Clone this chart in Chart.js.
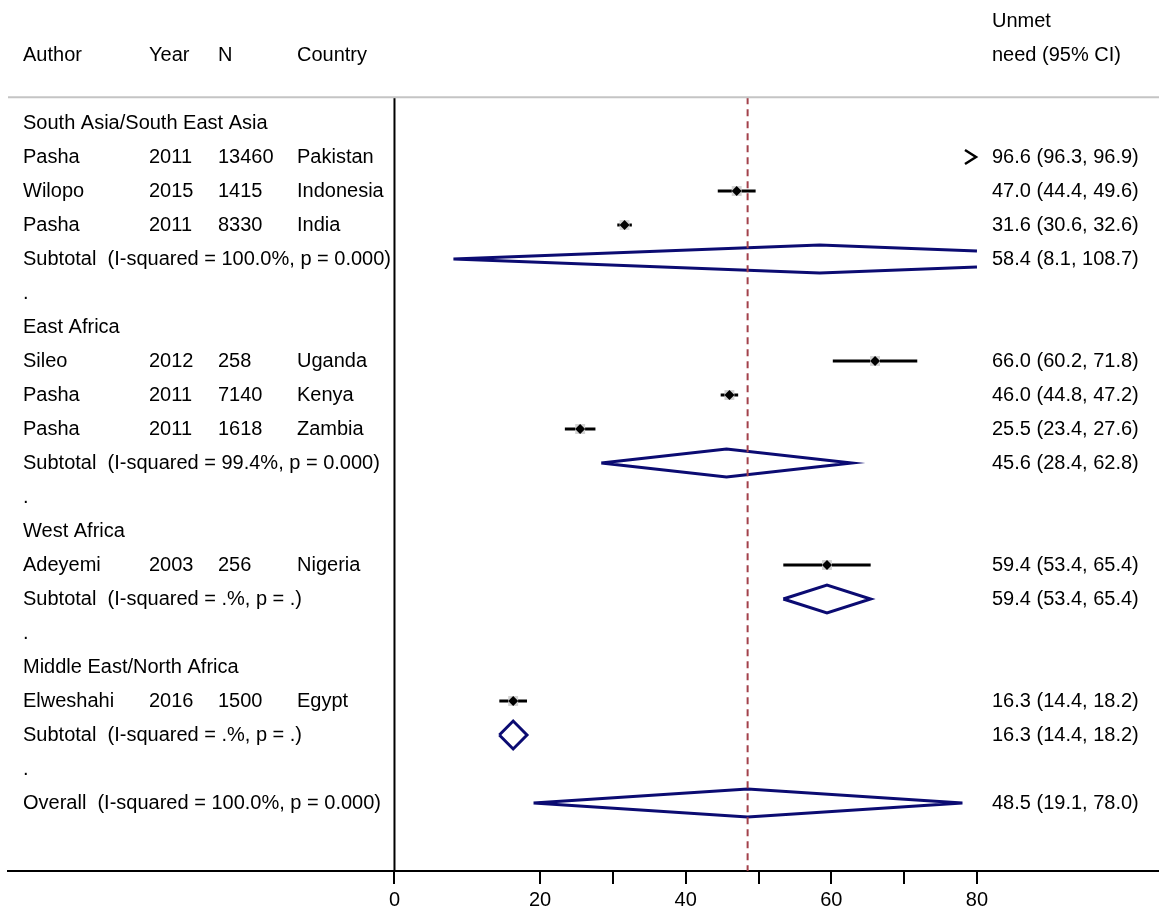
<!DOCTYPE html>
<html>
<head>
<meta charset="utf-8">
<script src="https://cdn.jsdelivr.net/npm/chart.js@4/dist/chart.umd.min.js"></script>
<style>
  html, body { margin: 0; padding: 0; background: #fff; }
  #wrap { width: 1159px; height: 913px; }
</style>
</head>
<body>
<div id="wrap"><canvas id="forest" width="1159" height="913"></canvas></div>
<script>
// ---- data ----
const groups = ['South Asia/South East Asia', 'East Africa', 'West Africa', 'Middle East/North Africa'];
const studyGroup = [0, 0, 0, 1, 1, 1, 2, 3];
const authors = ['Pasha', 'Wilopo', 'Pasha', 'Sileo', 'Pasha', 'Pasha', 'Adeyemi', 'Elweshahi'];
const years = [2011, 2015, 2011, 2012, 2011, 2011, 2003, 2016];
const sizes = [13460, 1415, 8330, 258, 7140, 1618, 256, 1500];
const countries = ['Pakistan', 'Indonesia', 'India', 'Uganda', 'Kenya', 'Zambia', 'Nigeria', 'Egypt'];
const estimates = [96.6, 47.0, 31.6, 66.0, 46.0, 25.5, 59.4, 16.3];
const lower = [96.3, 44.4, 30.6, 60.2, 44.8, 23.4, 53.4, 14.4];
const upper = [96.9, 49.6, 32.6, 71.8, 47.2, 27.6, 65.4, 18.2];

const subEst = [58.4, 45.6, 59.4, 16.3];
const subLower = [8.1, 28.4, 53.4, 14.4];
const subUpper = [108.7, 62.8, 65.4, 18.2];
const subHet = ['I-squared = 100.0%, p = 0.000', 'I-squared = 99.4%, p = 0.000', 'I-squared = .%, p = .', 'I-squared = .%, p = .'];

const overallEst = 48.5;
const overallLower = 19.1;
const overallUpper = 78.0;
const overallHet = 'I-squared = 100.0%, p = 0.000';

const tickValues = [0, 20, 30, 40, 50, 60, 70, 80];
const labeledTicks = [0, 20, 40, 60, 80];

// ---- layout ----
const plotMin = 0, plotMax = 80;       // range the marks are clipped to
const xMin = -53.08, xMax = 105.0;     // full-width scale so text columns fit left/right
const yMin = -123 / 34, yMax = 22;     // rows are one unit apart
const ruleRow = -0.76;                 // grey rule under the header
const diamondH = 0.41;                 // half height of pooled diamonds, in rows
const FONT = '"Liberation Sans", Arial, Helvetica, sans-serif';
const NAVY = '#0b0b72';

// build the table rows
const rows = [];
groups.forEach((g, gi) => {
  rows.push({ kind: 'group', label: g });
  studyGroup.forEach((sg, i) => { if (sg === gi) rows.push({ kind: 'study', i }); });
  rows.push({ kind: 'sub', gi });
  rows.push({ kind: 'dot' });
});
rows.push({ kind: 'overall' });

function fmt(e, l, u) { return e.toFixed(1) + ' (' + l.toFixed(1) + ', ' + u.toFixed(1) + ')'; }

function diamondPoints(lo, est, hi, y) {
  const pts = [];
  if (hi > plotMax) {
    const f = (hi - plotMax) / (hi - est);
    pts.push({ x: plotMax, y: y - diamondH * f }, { x: est, y: y - diamondH }, { x: lo, y: y },
             { x: est, y: y + diamondH }, { x: plotMax, y: y + diamondH * f });
  } else {
    pts.push({ x: lo, y: y }, { x: est, y: y - diamondH }, { x: hi, y: y },
             { x: est, y: y + diamondH }, { x: lo, y: y });
  }
  return pts;
}

function lineSet(data, color, width, dash) {
  return { data, showLine: true, fill: false, borderColor: color, borderWidth: width,
           borderDash: dash || [], pointRadius: 0, tension: 0, clip: false, order: 3 };
}

// arrow glyph for an estimate beyond the axis
const arrow = document.createElement('canvas');
arrow.width = 30; arrow.height = 20;
(function () {
  const c = arrow.getContext('2d');
  c.strokeStyle = '#000'; c.lineWidth = 2.5;
  c.beginPath(); c.moveTo(3, 3); c.lineTo(14, 10); c.lineTo(3, 17); c.stroke();
})();

const datasets = [];
// null line and overall line
datasets.push(lineSet([{ x: 0, y: ruleRow }, { x: 0, y: yMax }], '#000', 2));
const refLine = lineSet([{ x: overallEst, y: ruleRow }, { x: overallEst, y: yMax }], '#a3414b', 2, [7, 5]);
refLine.order = 0;
datasets.push(refLine);

const boxPts = [], dotPts = [], arrowPts = [];
rows.forEach((r, k) => {
  if (r.kind === 'study') {
    const i = r.i;
    const lo = Math.max(lower[i], plotMin), hi = Math.min(upper[i], plotMax);
    if (lo < hi) datasets.push(lineSet([{ x: lo, y: k }, { x: hi, y: k }], '#000', 3));
    if (estimates[i] > plotMax) arrowPts.push({ x: plotMax, y: k });
    else { boxPts.push({ x: estimates[i], y: k }); dotPts.push({ x: estimates[i], y: k }); }
  } else if (r.kind === 'sub') {
    datasets.push(lineSet(diamondPoints(subLower[r.gi], subEst[r.gi], subUpper[r.gi], k), NAVY, 3));
  } else if (r.kind === 'overall') {
    datasets.push(lineSet(diamondPoints(overallLower, overallEst, overallUpper, k), NAVY, 3));
  }
});
datasets.push({ data: boxPts, pointStyle: 'rect', pointRadius: 7, backgroundColor: '#d2d2d2', borderWidth: 0, showLine: false, order: 2 });
datasets.push({ data: dotPts, pointStyle: 'rectRot', pointRadius: 5, backgroundColor: '#000', borderWidth: 0, showLine: false, order: 1 });
datasets.push({ data: arrowPts, pointStyle: arrow, pointRadius: 10, showLine: false, clip: false, order: 1 });

// table text drawn at the y scale's row positions
const tablePlugin = {
  id: 'forestTable',
  afterDatasetsDraw(chart) {
    const ctx = chart.ctx;
    const ys = chart.scales.y;
    const area = chart.chartArea;
    ctx.save();
    // header rule
    ctx.strokeStyle = '#c4c4c4';
    ctx.lineWidth = 2;
    ctx.beginPath();
    ctx.moveTo(area.left, ys.getPixelForValue(ruleRow));
    ctx.lineTo(area.right, ys.getPixelForValue(ruleRow));
    ctx.stroke();

    ctx.fillStyle = '#000';
    ctx.font = '20px ' + FONT;
    ctx.textBaseline = 'middle';
    ctx.textAlign = 'left';
    const cAuthor = 23, cYear = 149, cN = 218, cCountry = 297, cRight = 992;
    const hy = ys.getPixelForValue(-2);
    ctx.fillText('Author', cAuthor, hy);
    ctx.fillText('Year', cYear, hy);
    ctx.fillText('N', cN, hy);
    ctx.fillText('Country', cCountry, hy);
    ctx.fillText('Unmet', cRight, ys.getPixelForValue(-3));
    ctx.fillText('need (95% CI)', cRight, hy);

    rows.forEach((r, k) => {
      const y = ys.getPixelForValue(k);
      if (r.kind === 'group') ctx.fillText(r.label, cAuthor, y);
      else if (r.kind === 'dot') ctx.fillText('.', cAuthor, y);
      else if (r.kind === 'study') {
        const i = r.i;
        ctx.fillText(authors[i], cAuthor, y);
        ctx.fillText(String(years[i]), cYear, y);
        ctx.fillText(String(sizes[i]), cN, y);
        ctx.fillText(countries[i], cCountry, y);
        ctx.fillText(fmt(estimates[i], lower[i], upper[i]), cRight, y);
      } else if (r.kind === 'sub') {
        ctx.fillText('Subtotal  (' + subHet[r.gi] + ')', cAuthor, y);
        ctx.fillText(fmt(subEst[r.gi], subLower[r.gi], subUpper[r.gi]), cRight, y);
      } else if (r.kind === 'overall') {
        ctx.fillText('Overall  (' + overallHet + ')', cAuthor, y);
        ctx.fillText(fmt(overallEst, overallLower, overallUpper), cRight, y);
      }
    });
    ctx.restore();
  }
};

new Chart(document.getElementById('forest'), {
  type: 'scatter',
  data: { datasets },
  plugins: [tablePlugin],
  options: {
    responsive: false,
    animation: false,
    layout: { autoPadding: false, padding: { left: 8, right: 0, top: 0, bottom: 0 } },
    plugins: { legend: { display: false }, tooltip: { enabled: false } },
    scales: {
      x: {
        type: 'linear',
        min: xMin,
        max: xMax,
        afterBuildTicks: s => { s.ticks = tickValues.map(v => ({ value: v })); },
        afterFit: s => { s.height = 42; },
        ticks: {
          autoSkip: false,
          maxRotation: 0,
          padding: 4,
          color: '#000',
          font: { size: 20, family: FONT },
          callback: v => labeledTicks.includes(v) ? String(v) : ''
        },
        grid: { drawOnChartArea: false, drawTicks: true, tickLength: 13, color: '#000', lineWidth: 2 },
        border: { display: true, color: '#000', width: 2 }
      },
      y: { type: 'linear', reverse: true, min: yMin, max: yMax, display: false }
    }
  }
});
</script>
</body>
</html>
